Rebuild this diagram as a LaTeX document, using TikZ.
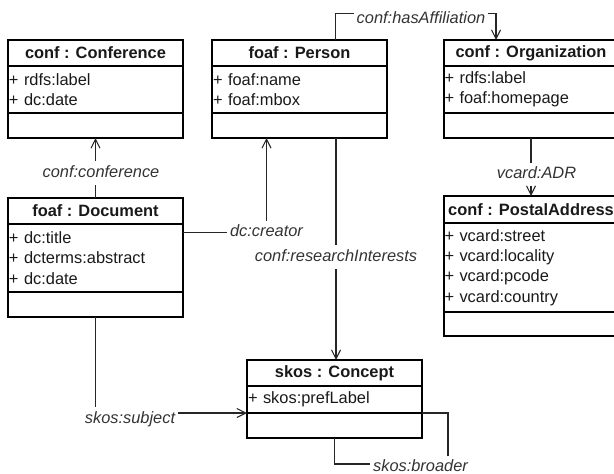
\documentclass[tikz,border=0pt]{standalone}
\usepackage{fontspec}
\setmainfont{Liberation Sans}
\usetikzlibrary{positioning,arrows.meta}

\begin{document}
\begin{tikzpicture}[x=1pt,y=-1pt,
  classbox/.style={draw=black,line width=2pt,outer sep=0pt,minimum width=175pt,text=black!90},
  classname/.style={classbox,anchor=north west,minimum height=#1,inner sep=0pt,
    font=\fontsize{16.4}{20.4}\selectfont\bfseries},
  classname/.default=26pt,
  classattr/.style={classbox,minimum height=#1,inner xsep=1pt,inner ysep=0pt,
    text width=173pt,align=left,font=\fontsize{16.4}{20.4}\selectfont},
  classops/.style={classbox,minimum height=#1,inner sep=0pt},
  rel/.style={text=black!80,inner xsep=3pt,inner ysep=4pt,text height=12pt,text depth=3.5pt,
    font=\fontsize{16.4}{20}\selectfont\itshape},
  link/.style={draw=black!85,line width=1.1pt},
  assoc/.style={link,-{Straight Barb[length=9pt,width=9pt]}}]
\useasboundingbox (0,0) rectangle (614,474);
\clip (0,0) rectangle (614,474);

% classes
\node[classname] (conf) at (8,40) {conf : Conference};
\node[classattr=47pt,below=0pt of conf] (confattr) {+ rdfs:label\\+ dc:date};
\node[classops=25pt,below=0pt of confattr] (confops) {};

\node[classname] (person) at (212,40) {foaf : Person};
\node[classattr=47pt,below=0pt of person] (personattr) {+ foaf:name\\+ foaf:mbox};
\node[classops=25pt,below=0pt of personattr] (personops) {};

\node[classname] (org) at (443.5,40) {conf : Organization};
\node[classattr=47pt,below=0pt of org] (orgattr) {+ rdfs:label\\+ foaf:homepage};
\node[classops=25pt,below=0pt of orgattr] (orgops) {};

\node[classname] (doc) at (8,198) {foaf : Document};
\node[classattr=68pt,below=0pt of doc] (docattr) {+ dc:title\\+ dcterms:abstract\\+ dc:date};
\node[classops=25pt,below=0pt of docattr] (docops) {};

\node[classname=27pt] (addr) at (443.5,196) {conf : PostalAddress};
\node[classattr=89pt,below=0pt of addr] (addrattr) {+ vcard:street\\+ vcard:locality\\+ vcard:pcode\\+ vcard:country};
\node[classops=24pt,below=0pt of addrattr] (addrops) {};

\node[classname] (concept) at (247,360) {skos : Concept};
\node[classattr=27pt,below=0pt of concept] (conceptattr) {+ skos:prefLabel};
\node[classops=25pt,below=0pt of conceptattr] (conceptops) {};

% relation names
\node[rel] (lconf) at (101,173) {conf:conference};
\node[rel] (lcreator) at (266.5,232.5) {dc:creator};
\node[rel] (lresearch) at (336,257) {conf:researchInterests};
\node[rel] (laffil) at (421,19.5) {conf:hasAffiliation};
\node[rel] (ladr) at (536.5,174.5) {vcard:ADR};
\node[rel] (lsubject) at (130,419) {skos:subject};
\node[rel] (lbroader) at (420.5,467.5) {skos:broader};

% connectors
\draw[link] (doc.north) -- (doc.north |- lconf.south);
\draw[assoc] (confops.south |- lconf.north) -- (confops.south);

\draw[link] (lcreator.west) -- (lcreator.west -| docattr.east);
\draw[assoc] (lcreator.north) -- (lcreator.north |- personops.south);

\draw[link] (lresearch.north) -- (lresearch.north |- personops.south);
\draw[assoc] (lresearch.south) -- (lresearch.south |- concept.north);

\draw[link] ([yshift=6pt]laffil.west) -| ([xshift=36pt]person.north);
\draw[assoc] ([yshift=6pt]laffil.east) -| ([xshift=-35pt]org.north);

\draw[link] (orgops.south) -- (orgops.south |- ladr.north);
\draw[assoc] (orgops.south |- ladr.south) -- (orgops.south |- addr.north);

\draw[link] (docops.south) -- (docops.south |- lsubject.north);
\draw[assoc] (lsubject.east |- conceptops.north west) -- (conceptops.north west);

\draw[link] (conceptops.south) |- ([yshift=3.5pt]lbroader.west);
\draw[link] (conceptops.north east) -| ([xshift=27.5pt]lbroader.north);
\end{tikzpicture}
\end{document}
